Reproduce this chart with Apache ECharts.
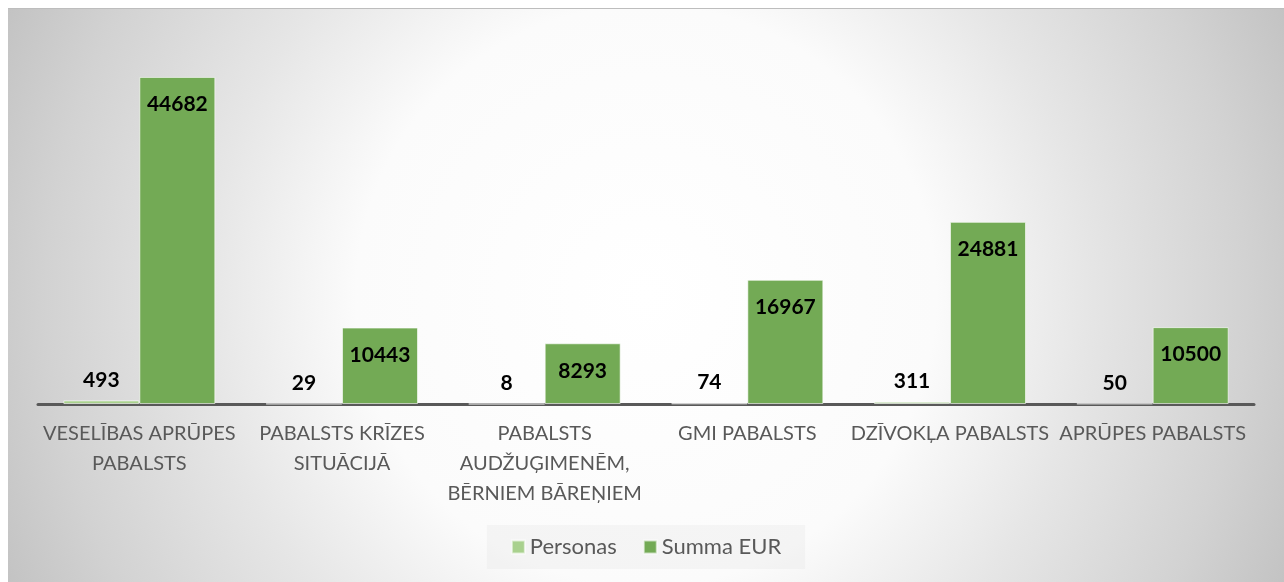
<!DOCTYPE html>
<html>
<head>
<meta charset="utf-8">
<script src="https://cdn.jsdelivr.net/npm/echarts@6/dist/echarts.min.js"></script>
<style>
	html, body { margin: 0; padding: 0; background: #fff; }
	#chart {
		position: absolute; left: 8px; top: 8px;
		width: 1276px; height: 574px;
		border-top: 1px solid #bdbdbd;
		box-sizing: border-box;
		background: radial-gradient(circle 700px at 50% 50%, #ffffff 0px, #fbfbfb 290px, #e6e6e6 440px, #d2d2d2 600px, #c3c3c3 700px);
	}
</style>
</head>
<body>
<div id="chart"></div>
<script>
	// kategorijas un vērtības
	var categories = [
		'VESELĪBAS APRŪPES\nPABALSTS',
		'PABALSTS KRĪZES\nSITUĀCIJĀ',
		'PABALSTS\nAUDŽUĢIMENĒM,\nBĒRNIEM BĀREŅIEM',
		'GMI PABALSTS',
		'DZĪVOKĻA PABALSTS',
		'APRŪPES PABALSTS'
	];
	var personas = [493, 29, 8, 74, 311, 50];
	var summaEur = [44682, 10443, 8293, 16967, 24881, 10500];

	var font = 'Lato';
	var myChart = echarts.init(document.getElementById('chart'));
	myChart.setOption({
		backgroundColor: 'transparent',
		textStyle: { fontFamily: font },
		animation: false,
		grid: { left: 30, right: 30, top: 29, bottom: 178 },
		legend: {
			data: ['Personas', 'Summa EUR'],
			bottom: 13,
			left: 'center',
			icon: 'rect',
			itemWidth: 13,
			itemHeight: 13,
			itemGap: 26,
			padding: [11, 24],
			backgroundColor: 'rgba(225,225,225,0.25)',
			textStyle: { fontSize: 22, color: '#595959', fontFamily: font }
		},
		xAxis: {
			type: 'category',
			data: categories,
			axisTick: { show: false },
			axisLine: { lineStyle: { color: '#595959', width: 3 } },
			axisLabel: {
				interval: 0,
				margin: 15,
				fontSize: 20,
				lineHeight: 30,
				color: '#595959',
				fontFamily: font
			}
		},
		yAxis: {
			type: 'value',
			min: 0,
			max: 50000,
			show: false,
			splitLine: { show: false }
		},
		series: [{
				name: 'Personas',
				type: 'bar',
				data: personas,
				barGap: 0,
				barCategoryGap: '25%',
				itemStyle: { color: '#a9d18e', borderColor: 'rgba(255,255,255,0.6)', borderWidth: 1 },
				label: {
					show: true,
					position: 'top',
					distance: 10,
					fontSize: 21,
					fontWeight: 'bold',
					color: '#000',
					fontFamily: font
				}
			},
			{
				name: 'Summa EUR',
				type: 'bar',
				data: summaEur,
				barGap: 0,
				barCategoryGap: '25%',
				itemStyle: { color: '#73aa55', borderColor: 'rgba(255,255,255,0.6)', borderWidth: 1 },
				label: {
					show: true,
					position: 'insideTop',
					distance: 17,
					fontSize: 21,
					fontWeight: 'bold',
					color: '#000',
					fontFamily: font
				}
			}
		]
	});
</script>
</body>
</html>
